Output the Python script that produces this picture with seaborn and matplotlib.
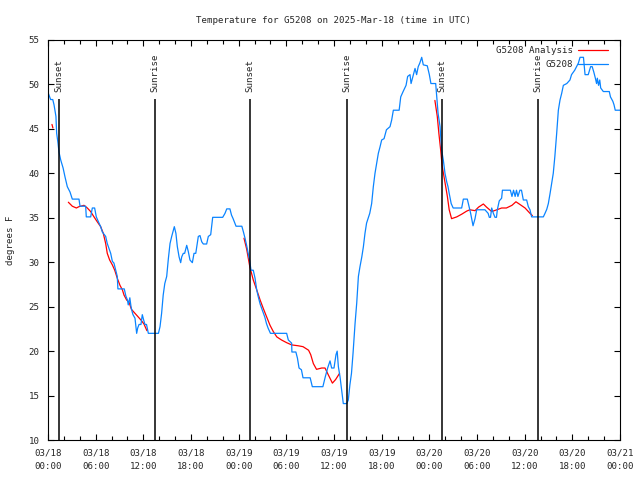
import pandas as pd
import matplotlib
matplotlib.use('Agg')
import matplotlib.pyplot as plt
import matplotlib.dates as mdates
from matplotlib.lines import Line2D
import seaborn as sns

start = pd.Timestamp('2025-03-18 00:00')

# observed temperatures (hours since start, deg F)
obs_hours = [0.0, 0.33, 0.6, 0.76, 1.0, 1.09, 1.26, 1.38, 1.6, 1.9, 2.14, 2.43, 2.77, 3.06, 3.9, 4.03,
             4.74, 4.82, 5.37, 5.58, 5.87, 6.08, 6.42, 6.63, 6.84, 7.26, 7.46, 7.89, 8.1, 8.3, 8.52, 8.72,
             8.8, 9.6, 9.8, 10.0, 10.1, 10.3, 10.45, 10.6, 10.7, 10.95, 11.08, 11.16, 11.29, 11.46, 11.7,
             11.87, 12.04, 12.2, 12.4, 12.63, 13.9, 14.1, 14.3, 14.5, 14.7, 14.94, 15.15, 15.36, 15.57,
             15.78, 15.9, 16.1, 16.28, 16.5, 16.7, 16.83, 17.03, 17.2, 17.46, 17.66, 17.87, 18.17, 18.38,
             18.6, 18.92, 19.13, 19.35, 19.55, 19.97, 20.18, 20.48, 20.73, 21.99, 22.28, 22.5, 22.9, 23.1,
             23.3, 23.67, 24.4, 24.6, 24.8, 25.0, 25.2, 25.4, 25.55, 25.84, 26.06, 26.27, 26.47, 26.7,
             26.9, 27.1, 27.3, 27.5, 27.7, 28.0, 30.04, 30.25, 30.67, 30.7, 31.2, 31.4, 31.6, 31.9, 32.1,
             33.0, 33.27, 34.6, 34.9, 35.2, 35.5, 35.7, 36.0, 36.25, 36.4, 36.55, 36.76, 36.97, 37.17,
             37.6, 37.8, 38.0, 38.2, 38.4, 38.65, 38.86, 39.07, 39.27, 39.5, 39.7, 39.9, 40.1, 40.5,
             40.74, 40.95, 41.16, 41.37, 41.58, 41.8, 42.0, 42.3, 42.6, 43.05, 43.26, 43.47, 44.2, 44.4,
             44.7, 45.07, 45.27, 45.57, 45.7, 46.0, 46.2, 46.4, 46.6, 46.8, 47.04, 47.24, 47.74, 48.0,
             48.2, 48.8, 48.9, 49.1, 49.35, 49.55, 49.76, 49.97, 50.2, 50.35, 50.5, 50.75, 51.0, 52.07,
             52.28, 52.78, 53.0, 53.2, 53.4, 53.5, 53.75, 53.96, 55.0, 55.4, 55.55, 55.7, 55.85, 56.06,
             56.27, 56.45, 56.56, 56.8, 57.1, 57.2, 58.2, 58.4, 58.6, 58.8, 58.97, 59.15, 59.4, 59.6,
             59.83, 60.25, 60.46, 60.67, 60.88, 62.35, 62.56, 62.78, 62.98, 63.2, 63.4, 63.6, 63.8,
             64.03, 64.24, 64.45, 64.66, 64.87, 65.3, 65.7, 65.9, 66.3, 66.76, 66.97, 67.4, 67.47, 67.6,
             68.0, 68.3, 68.5, 68.7, 68.9, 69.05, 69.15, 69.3, 69.45, 69.57, 69.9, 70.65, 70.8, 71.1,
             71.25, 71.4, 72.0]
obs_temps = [49.1, 48.3, 48.3, 47.7, 46.4, 44.5, 43.4, 42.4, 41.5, 40.6, 39.6, 38.5, 37.9, 37.1, 37.1, 36.3,
             36.3, 35.1, 35.1, 36.1, 36.1, 35.1, 34.4, 34.0, 33.4, 32.9, 32.1, 31.0, 30.1, 29.9, 29.1, 28.4,
             27.0, 27.0, 26.2, 25.75, 25.2, 26.0, 25.0, 24.4, 24.1, 23.7, 22.6, 22.0, 22.6, 23.0, 23.0,
             24.1, 23.5, 23.0, 23.0, 22.0, 22.0, 22.75, 24.25, 26.3, 27.6, 28.4, 30.4, 32.1, 32.9,
             33.6, 34.0, 33.25, 31.75, 30.6, 29.95, 30.6, 31.0, 31.0, 31.9, 31.2, 30.25, 29.95, 31.0,
             31.0, 32.9, 33.0, 32.3, 32.05, 32.05, 32.9, 33.1, 35.05, 35.05, 35.5, 36.0, 36.0, 35.3,
             34.9, 34.05, 34.05, 33.4, 32.7, 31.9, 31.0, 30.1, 29.1, 29.1, 28.2, 26.9, 26.1, 25.3,
             24.8, 24.3, 23.8, 23.1, 22.6, 22.0, 22.0, 21.25, 20.9, 19.9, 19.9, 19.2, 18.1, 17.9, 17.0,
             17.0, 16.0, 16.0, 17.1, 18.1, 18.9, 18.1, 18.1, 19.6, 20.0, 18.25, 17.1, 15.6, 14.1,
             14.1, 14.5, 16.2, 17.5, 19.8, 23.1, 25.4, 28.4, 29.5, 30.6, 31.75, 33.25, 34.4, 35.5,
             36.6, 38.5, 40.0, 41.1, 42.25, 43.0, 43.75, 43.9, 44.9, 45.25, 46.0, 47.1, 47.1, 48.6,
             49.2, 49.9, 50.9, 51.1, 50.1, 51.1, 51.8, 51.1, 52.0, 52.4, 53.05, 52.2, 52.1, 51.1,
             50.1, 50.1, 49.0, 46.75, 45.25, 42.6, 41.5, 40.0, 39.0, 38.5, 37.75, 36.6, 36.1, 36.1,
             37.1, 37.1, 36.25, 35.5, 34.55, 34.1, 34.9, 35.9, 35.9, 35.5, 35.05, 35.05, 36.1, 35.5,
             35.05, 35.05, 35.9, 36.9, 37.2, 38.1, 38.1, 37.4, 38.1, 37.4, 38.1, 37.4, 38.1, 38.1,
             37.0, 37.0, 36.25, 35.9, 35.1, 35.1, 35.5, 35.95, 36.6, 37.75, 38.9, 40.0, 41.9,
             44.5, 47.1, 48.25, 49.0, 49.9, 50.1, 50.5, 51.1, 51.6, 52.4, 53.05, 53.05, 52.4, 51.1,
             51.1, 52.0, 52.0, 51.4, 50.7, 50.1, 50.7, 49.9, 50.5, 49.6, 49.2, 49.2, 48.6, 48.1,
             47.7, 47.1, 47.1]

# analysis temperatures (gaps > 1.5 h split the line)
ana_hours = [0.5, 0.62,
             2.56, 3.06, 3.57, 3.9, 4.53, 4.95, 5.37, 5.79, 6.2, 6.63, 6.96, 7.26, 7.46, 7.76, 8.1, 8.4,
             8.72, 9.06, 9.36, 9.57, 9.9, 10.2, 10.5, 10.9, 11.3, 11.7, 12.08, 12.45,
             24.67, 25.0, 25.4, 25.84, 26.27, 26.7, 27.1, 27.5, 27.95, 28.36, 28.8, 29.4, 30.04, 30.67,
             31.5, 32.1, 32.8, 33.07, 33.4, 33.8, 34.45, 34.87, 35.3, 35.8, 36.2, 36.7,
             48.7, 49.0, 49.2, 49.43, 49.6, 49.85, 50.1, 50.27, 50.5, 50.8, 51.45, 52.07, 52.7, 53.1,
             53.75, 54.2, 54.8, 55.2, 55.85, 56.5, 57.1, 57.7, 58.4, 58.9, 59.4, 60.05, 60.67, 60.97]
ana_temps = [45.5, 45.1,
             36.75, 36.3, 36.1, 36.25, 36.4, 36.1, 35.7, 35.1, 34.55, 34.0, 33.25, 32.1, 31.0, 30.25,
             29.7, 29.1, 28.2, 27.4, 26.9, 26.3, 25.75, 25.5, 24.7, 24.3, 23.9, 23.5, 23.05, 22.3,
             32.7, 31.5, 29.5, 28.0, 26.9, 25.75, 24.8, 23.9, 22.9, 22.2, 21.6, 21.25, 20.95, 20.7,
             20.6, 20.5, 20.1, 19.6, 18.6, 17.95, 18.1, 18.1, 17.3, 16.4, 16.8, 17.5,
             48.2, 46.4, 44.5, 42.6, 40.9, 39.6, 38.3, 37.4, 35.9, 34.9, 35.1, 35.4, 35.75, 35.9,
             35.8, 36.2, 36.55, 36.2, 35.7, 35.9, 36.1, 36.1, 36.4, 36.8, 36.5, 36.1, 35.5, 35.25]

sun_labels = ['Sunset', 'Sunrise', 'Sunset', 'Sunrise', 'Sunset', 'Sunrise']
sun_hours = [1.4, 13.45, 25.45, 37.6, 49.6, 61.7]
sun_line_top = 48.4

obs = pd.DataFrame({'time': start + pd.to_timedelta(obs_hours, unit='h'), 'temp': obs_temps})
ana = pd.DataFrame({'time': start + pd.to_timedelta(ana_hours, unit='h'), 'temp': ana_temps})
ana['seg'] = (pd.Series(ana_hours).diff() > 1.5).cumsum()

sns.set_style('ticks')
plt.rcParams['font.family'] = ['DejaVu Sans Mono']
fs = 6.6

fig = plt.figure(figsize=(6.4, 4.8), dpi=100)
ax = fig.add_axes([0.075, 0.0833, 0.89375, 0.8334])

red = '#ff0000'
blue = '#0a84ff'
sns.lineplot(data=ana, x='time', y='temp', units='seg', estimator=None, color=red,
             linewidth=0.9, ax=ax, legend=False)
sns.lineplot(data=obs, x='time', y='temp', color=blue, linewidth=0.9, ax=ax, legend=False)

sun_times = start + pd.to_timedelta(sun_hours, unit='h')
ax.vlines(sun_times, 10, sun_line_top, color='black', linewidth=1.1, zorder=5)
for t, lab in zip(sun_times, sun_labels):
    ax.text(t, sun_line_top + 0.75, lab, rotation=90, ha='center', va='bottom', fontsize=fs)

ax.set_xlim(start, start + pd.Timedelta(hours=72))
ax.set_ylim(10, 55)
ax.xaxis.set_major_locator(mdates.HourLocator(byhour=range(0, 24, 6)))
ax.xaxis.set_minor_locator(mdates.HourLocator(byhour=range(0, 24, 2)))
ax.xaxis.set_major_formatter(mdates.DateFormatter('%m/%d\n%H:%M'))
ax.set_yticks(range(10, 56, 5))
ax.tick_params(which='both', direction='in', top=True, right=True, labelsize=fs,
               width=0.8, color='black')
ax.tick_params(which='major', length=4, pad=6)
ax.tick_params(which='minor', length=3)
for lbl in ax.get_xticklabels():
    lbl.set_linespacing(1.6)
for s in ax.spines.values():
    s.set_linewidth(0.8)
    s.set_color('black')

ax.set_xlabel('')
ax.set_ylabel('degrees F', fontsize=fs, labelpad=10)
ax.set_title('Temperature for G5208 on 2025-Mar-18 (time in UTC)', fontsize=fs, pad=12)

handles = [Line2D([], [], color=red, linewidth=0.9), Line2D([], [], color=blue, linewidth=0.9)]
ax.legend(handles, ['G5208 Analysis', 'G5208'], loc='upper right', bbox_to_anchor=(0.991, 1.0),
          frameon=False, markerfirst=False, fontsize=fs, handlelength=3.3, handletextpad=0.6,
          labelspacing=0.55, borderaxespad=0.6, borderpad=0.1)

fig.savefig('out.png', dpi=100)
